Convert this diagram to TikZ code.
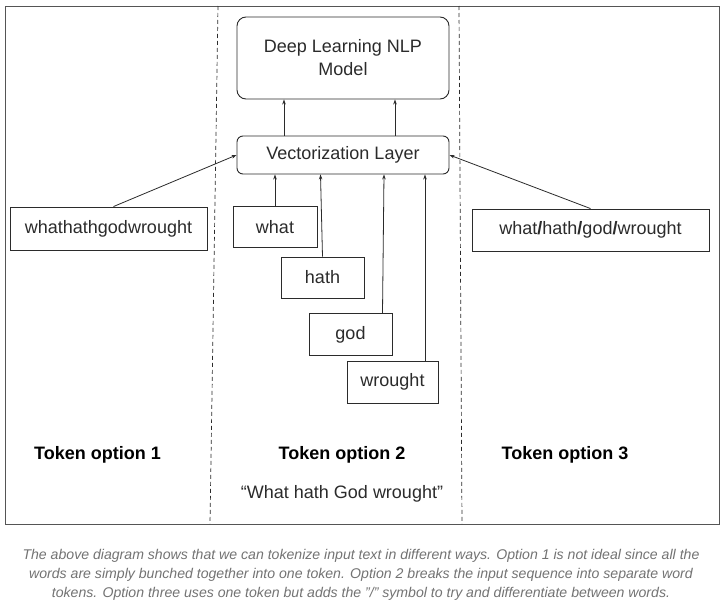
\documentclass[tikz,border=0pt]{standalone}
\usepackage{fontspec}
\setmainfont{Liberation Sans}
\usetikzlibrary{arrows.meta,calc}
\definecolor{txt}{HTML}{2B2B2B}
\definecolor{cap}{HTML}{737373}
\definecolor{frm}{HTML}{555555}
\begin{document}
\begin{tikzpicture}[x=1pt,y=-1pt,
  box/.style={draw=txt,line width=0.9pt,inner sep=0pt,text=txt,font=\fontsize{18}{23}\selectfont},
  rbox/.style={box,rounded corners=9pt,align=center},
  arr/.style={draw=txt,line width=0.8pt,-{Stealth[length=5pt,width=3.5pt]}},
  lbl/.style={font=\fontsize{18}{22}\selectfont\bfseries,text=black},
  capt/.style={font=\fontsize{14.1}{16}\selectfont\itshape,text=cap}]
\useasboundingbox (0,0) rectangle (724,605);
\fill[white] (0,0) rectangle (724,605);
% frame
\draw[frm,line width=1pt] (5,6) rectangle (719,524);
\draw[txt,line width=0.7pt,dash pattern=on 4pt off 3pt] (218,6) -- (210,524);
\draw[txt,line width=0.7pt,dash pattern=on 4pt off 3pt] (459,6) -- (462,524);
% nodes
\node[rbox,minimum width=212pt,minimum height=82pt] (dl) at (343,58) {Deep Learning NLP\\Model};
\node[rbox,rounded corners=6pt,minimum width=212pt,minimum height=38pt] (vec) at (343,155) {Vectorization Layer};
\node[box,minimum width=197pt,minimum height=43pt] (whole) at (108.5,228.5) {whathathgodwrought};
\node[box,minimum width=237pt,minimum height=42pt] (slash) at (590.5,230) {what\textbf{/}hath\textbf{/}god\textbf{/}wrought};
\node[box,minimum width=84pt,minimum height=41pt] (what) at (275,227) {what};
\node[box,minimum width=83pt,minimum height=41pt] (hath) at (322.5,277.5) {hath};
\node[box,minimum width=83pt,minimum height=42pt] (god) at (350.5,334.5) {god};
\node[box,minimum width=91pt,minimum height=42pt] (wrought) at (392.5,382) {wrought};
% arrows
\draw[arr] ([xshift=-59pt]vec.north) -- ([xshift=-59pt]dl.south);
\draw[arr] ([xshift=52pt]vec.north) -- ([xshift=52pt]dl.south);
\draw[arr] ([xshift=5pt]whole.north) -- (vec.west);
\draw[arr] (slash.north) -- (vec.east);
\draw[arr] (what.north) -- (what.north |- vec.south);
\draw[arr] (hath.north) -- ([xshift=-2pt]hath.north |- vec.south);
\draw[arr] ([xshift=32pt]god.north) -- ([xshift=33.5pt]god.north |- vec.south);
\draw[arr] ([xshift=32.5pt]wrought.north) -- ([xshift=32.5pt]wrought.north |- vec.south);
% labels
\node[lbl] (t1) at (97.5,455) {Token option 1};
\node[lbl] (t2) at (342,455) {Token option 2};
\node[lbl] (t3) at (565,455) {Token option 3};
\node[font=\fontsize{18}{22}\selectfont,text=txt] (q) at (342,494) {“What hath God wrought”};
% caption
\node[capt] (c1) at (361,556) {The above diagram shows that we can tokenize input text in different ways. Option 1 is not ideal since all the};
\node[capt] (c2) at (361,575) {words are simply bunched together into one token. Option 2 breaks the input sequence into separate word};
\node[capt] (c3) at (361,594) {tokens. Option three uses one token but adds the "/" symbol to try and differentiate between words.};
\end{tikzpicture}
\end{document}
